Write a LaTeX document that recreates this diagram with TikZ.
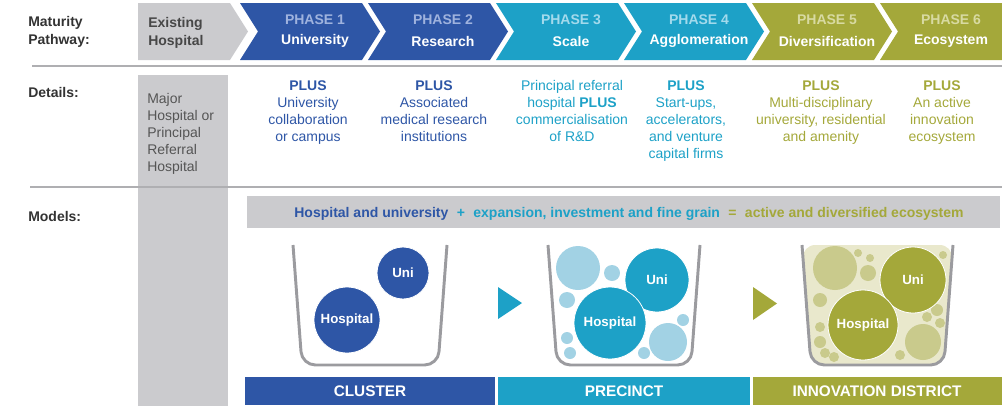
\documentclass[tikz,border=0pt]{standalone}
\usepackage{fontspec}
\setmainfont{Liberation Sans}
\definecolor{cblue}{HTML}{2E56A6}
\definecolor{cbluel}{HTML}{9FB3DE}
\definecolor{cteal}{HTML}{1DA1C7}
\definecolor{cteall}{HTML}{A3DAEC}
\definecolor{colive}{HTML}{A4A83A}
\definecolor{colivel}{HTML}{D8DAA2}
\definecolor{cgray}{HTML}{CBCBCE}
\definecolor{ctext}{HTML}{333333}
\definecolor{cgtext}{HTML}{555555}
\definecolor{cpale}{HTML}{A2D2E4}
\definecolor{colpale}{HTML}{C9CA8C}
\definecolor{cbeige}{HTML}{E9E8CC}
\definecolor{ccup}{HTML}{9B9B9F}
\definecolor{cline}{HTML}{AFAFB2}
\tikzset{
  rowlab/.style={font=\bfseries\fontsize{10.5}{13.5}\selectfont, text=ctext, inner sep=0, align=left, anchor=north west},
  phaselab/.style={font=\bfseries\fontsize{10.5}{12}\selectfont, inner sep=0},
  phasename/.style={font=\bfseries\fontsize{10.5}{12}\selectfont, text=white, inner sep=0},
  detail/.style={font=\fontsize{10.5}{12.75}\selectfont, inner sep=0, align=center, anchor=north},
  barlab/.style={font=\bfseries\fontsize{11.5}{13}\selectfont, text=white, inner sep=0},
  cupline/.style={draw=ccup, line width=2.2pt, rounded corners=10pt},
  bigc/.style={circle, inner sep=0, text=white, font=\bfseries\fontsize{10}{12}\selectfont, draw=white, line width=0.6pt},
}
\begin{document}
\begin{tikzpicture}[x=0.75pt,y=-0.75pt]
\useasboundingbox (0,0) rectangle (1002,418);
% ---------- top row: chevrons
\fill[cgray] (138,3) -- (230,3) -- (248,31.5) -- (230,60) -- (138,60) -- cycle;
\fill[cblue] (240,3) -- (362,3) -- (380,31.5) -- (362,60) -- (240,60) -- (258,31.5) -- cycle;
\fill[cblue] (368,3) -- (490,3) -- (508,31.5) -- (490,60) -- (368,60) -- (386,31.5) -- cycle;
\fill[cteal] (496,3) -- (618,3) -- (636,31.5) -- (618,60) -- (496,60) -- (514,31.5) -- cycle;
\fill[cteal] (624,3) -- (746,3) -- (764,31.5) -- (746,60) -- (624,60) -- (642,31.5) -- cycle;
\fill[colive] (752,3) -- (874,3) -- (892,31.5) -- (874,60) -- (752,60) -- (770,31.5) -- cycle;
\fill[colive] (880,3) -- (1002,3) -- (1002,60) -- (880,60) -- (898,31.5) -- cycle;

\node[rowlab] (lmat) at (28,16) {Maturity\\Pathway:};
\node[rowlab, text=ctext!90] (lex) at (148,17) {Existing\\Hospital};

\node[phaselab, text=cbluel] (p1a) at (315,20) {PHASE 1};
\node[phasename] (p1b) at (315,41) {University};
\node[phaselab, text=cbluel] (p2a) at (443,20) {PHASE 2};
\node[phasename] (p2b) at (443,41) {Research};
\node[phaselab, text=cteall] (p3a) at (571,20) {PHASE 3};
\node[phasename] (p3b) at (571,41) {Scale};
\node[phaselab, text=cteall] (p4a) at (699,20) {PHASE 4};
\node[phasename] (p4b) at (699,41) {Agglomeration};
\node[phaselab, text=colivel] (p5a) at (827,20) {PHASE 5};
\node[phasename] (p5b) at (827,41) {Diversification};
\node[phaselab, text=colivel] (p6a) at (951,20) {PHASE 6};
\node[phasename] (p6b) at (951,41) {Ecosystem};

\draw[cline, line width=1.2pt] (32,66) -- (1002,66);

% ---------- gray column
\fill[cgray] (138,75) rectangle (228,406);

% ---------- details
\node[rowlab] (ldet) at (28,87) {Details:};
\node[detail, anchor=north west, align=left, text=cgtext] (d0) at (147,93) {Major\\Hospital or\\Principal\\Referral\\Hospital};
\node[detail, text=cblue] (d1) at (308,80) {\textbf{PLUS}\\University\\collaboration\\or campus};
\node[detail, text=cblue] (d2) at (434,80) {\textbf{PLUS}\\Associated\\medical research\\institutions};
\node[detail, text=cteal] (d3) at (572,80) {Principal referral\\hospital \textbf{PLUS}\\commercialisation\\of R\&D};
\node[detail, text=cteal] (d4) at (686,80) {\textbf{PLUS}\\Start-ups,\\accelerators,\\and venture\\capital firms};
\node[detail, text=colive] (d5) at (821,80) {\textbf{PLUS}\\Multi-disciplinary\\university, residential\\and amenity};
\node[detail, text=colive] (d6) at (942,80) {\textbf{PLUS}\\An active\\innovation\\ecosystem};

\draw[cline, line width=1.5pt] (30,187) -- (1002,187);

% ---------- models
\node[rowlab] (lmod) at (28,211) {Models:};
\fill[cgray] (247,196) rectangle (1000,228);
\node[inner sep=0, anchor=base, font=\bfseries\fontsize{10.5}{12}\selectfont] (banner) at (629,217)
  {\textcolor{cblue}{Hospital and university}\hspace{0.6em}\textcolor{cteal}{+}\hspace{0.6em}\textcolor{cteal}{expansion, investment and fine grain}\hspace{0.6em}\textcolor{colive}{=}\hspace{0.6em}\textcolor{colive}{active and diversified ecosystem}};

% cup 1
\node[bigc, fill=cblue, minimum size=39pt] (uni1) at (403,273) {Uni};
\node[bigc, fill=cblue, minimum size=49.5pt] (hos1) at (347,320) {Hospital};
\draw[cupline] (293,245) -- (302,365) -- (438,365) -- (447,245);

% arrow 1
\fill[cteal] (498,287) -- (522,303) -- (498,319) -- cycle;

% cup 2
\foreach \x/\y/\r in {578/268/22, 612/273/8, 567/300/8, 567/338/6, 570/353/6, 644/353/6, 668/342/19, 683/320/6}
  \fill[cpale] (\x,\y) circle[radius=\r];
\node[bigc, fill=cteal, minimum size=48pt] (uni2) at (657,280) {Uni};
\node[bigc, fill=cteal, minimum size=54pt] (hos2) at (610,323) {Hospital};
\draw[cupline] (548,245) -- (557,365) -- (691,365) -- (700,245);

% arrow 2
\fill[colive] (753,287) -- (777,303.5) -- (753,320) -- cycle;

% cup 3
\fill[cbeige, rounded corners=10pt] (802,245) -- (811,365) -- (944,365) -- (953,245) -- cycle;
\foreach \x/\y/\r in {835/268/22, 858/253/4, 870/258/4, 868/273/8, 820/300/7, 820/327/5, 820/342/6, 825/353/5, 834/357/5, 943/255/4, 937/310/6, 927/317/5, 940/323/5, 923/342/18, 900/355/5}
  \fill[colpale] (\x,\y) circle[radius=\r];
\node[bigc, fill=colive, minimum size=49.5pt] (uni3) at (913,280) {Uni};
\node[bigc, fill=colive, minimum size=52.5pt] (hos3) at (863,325) {Hospital};
\draw[cupline] (802,245) -- (811,365) -- (944,365) -- (953,245);

% ---------- bottom bars
\fill[cblue] (245,377) rectangle (495,405);
\fill[cteal] (498,377) rectangle (750,405);
\fill[colive] (753,377) rectangle (1002,405);
\node[barlab] (b1) at (370,391.5) {CLUSTER};
\node[barlab] (b2) at (624,391.5) {PRECINCT};
\node[barlab] (b3) at (877,391.5) {INNOVATION DISTRICT};
\end{tikzpicture}
\end{document}
